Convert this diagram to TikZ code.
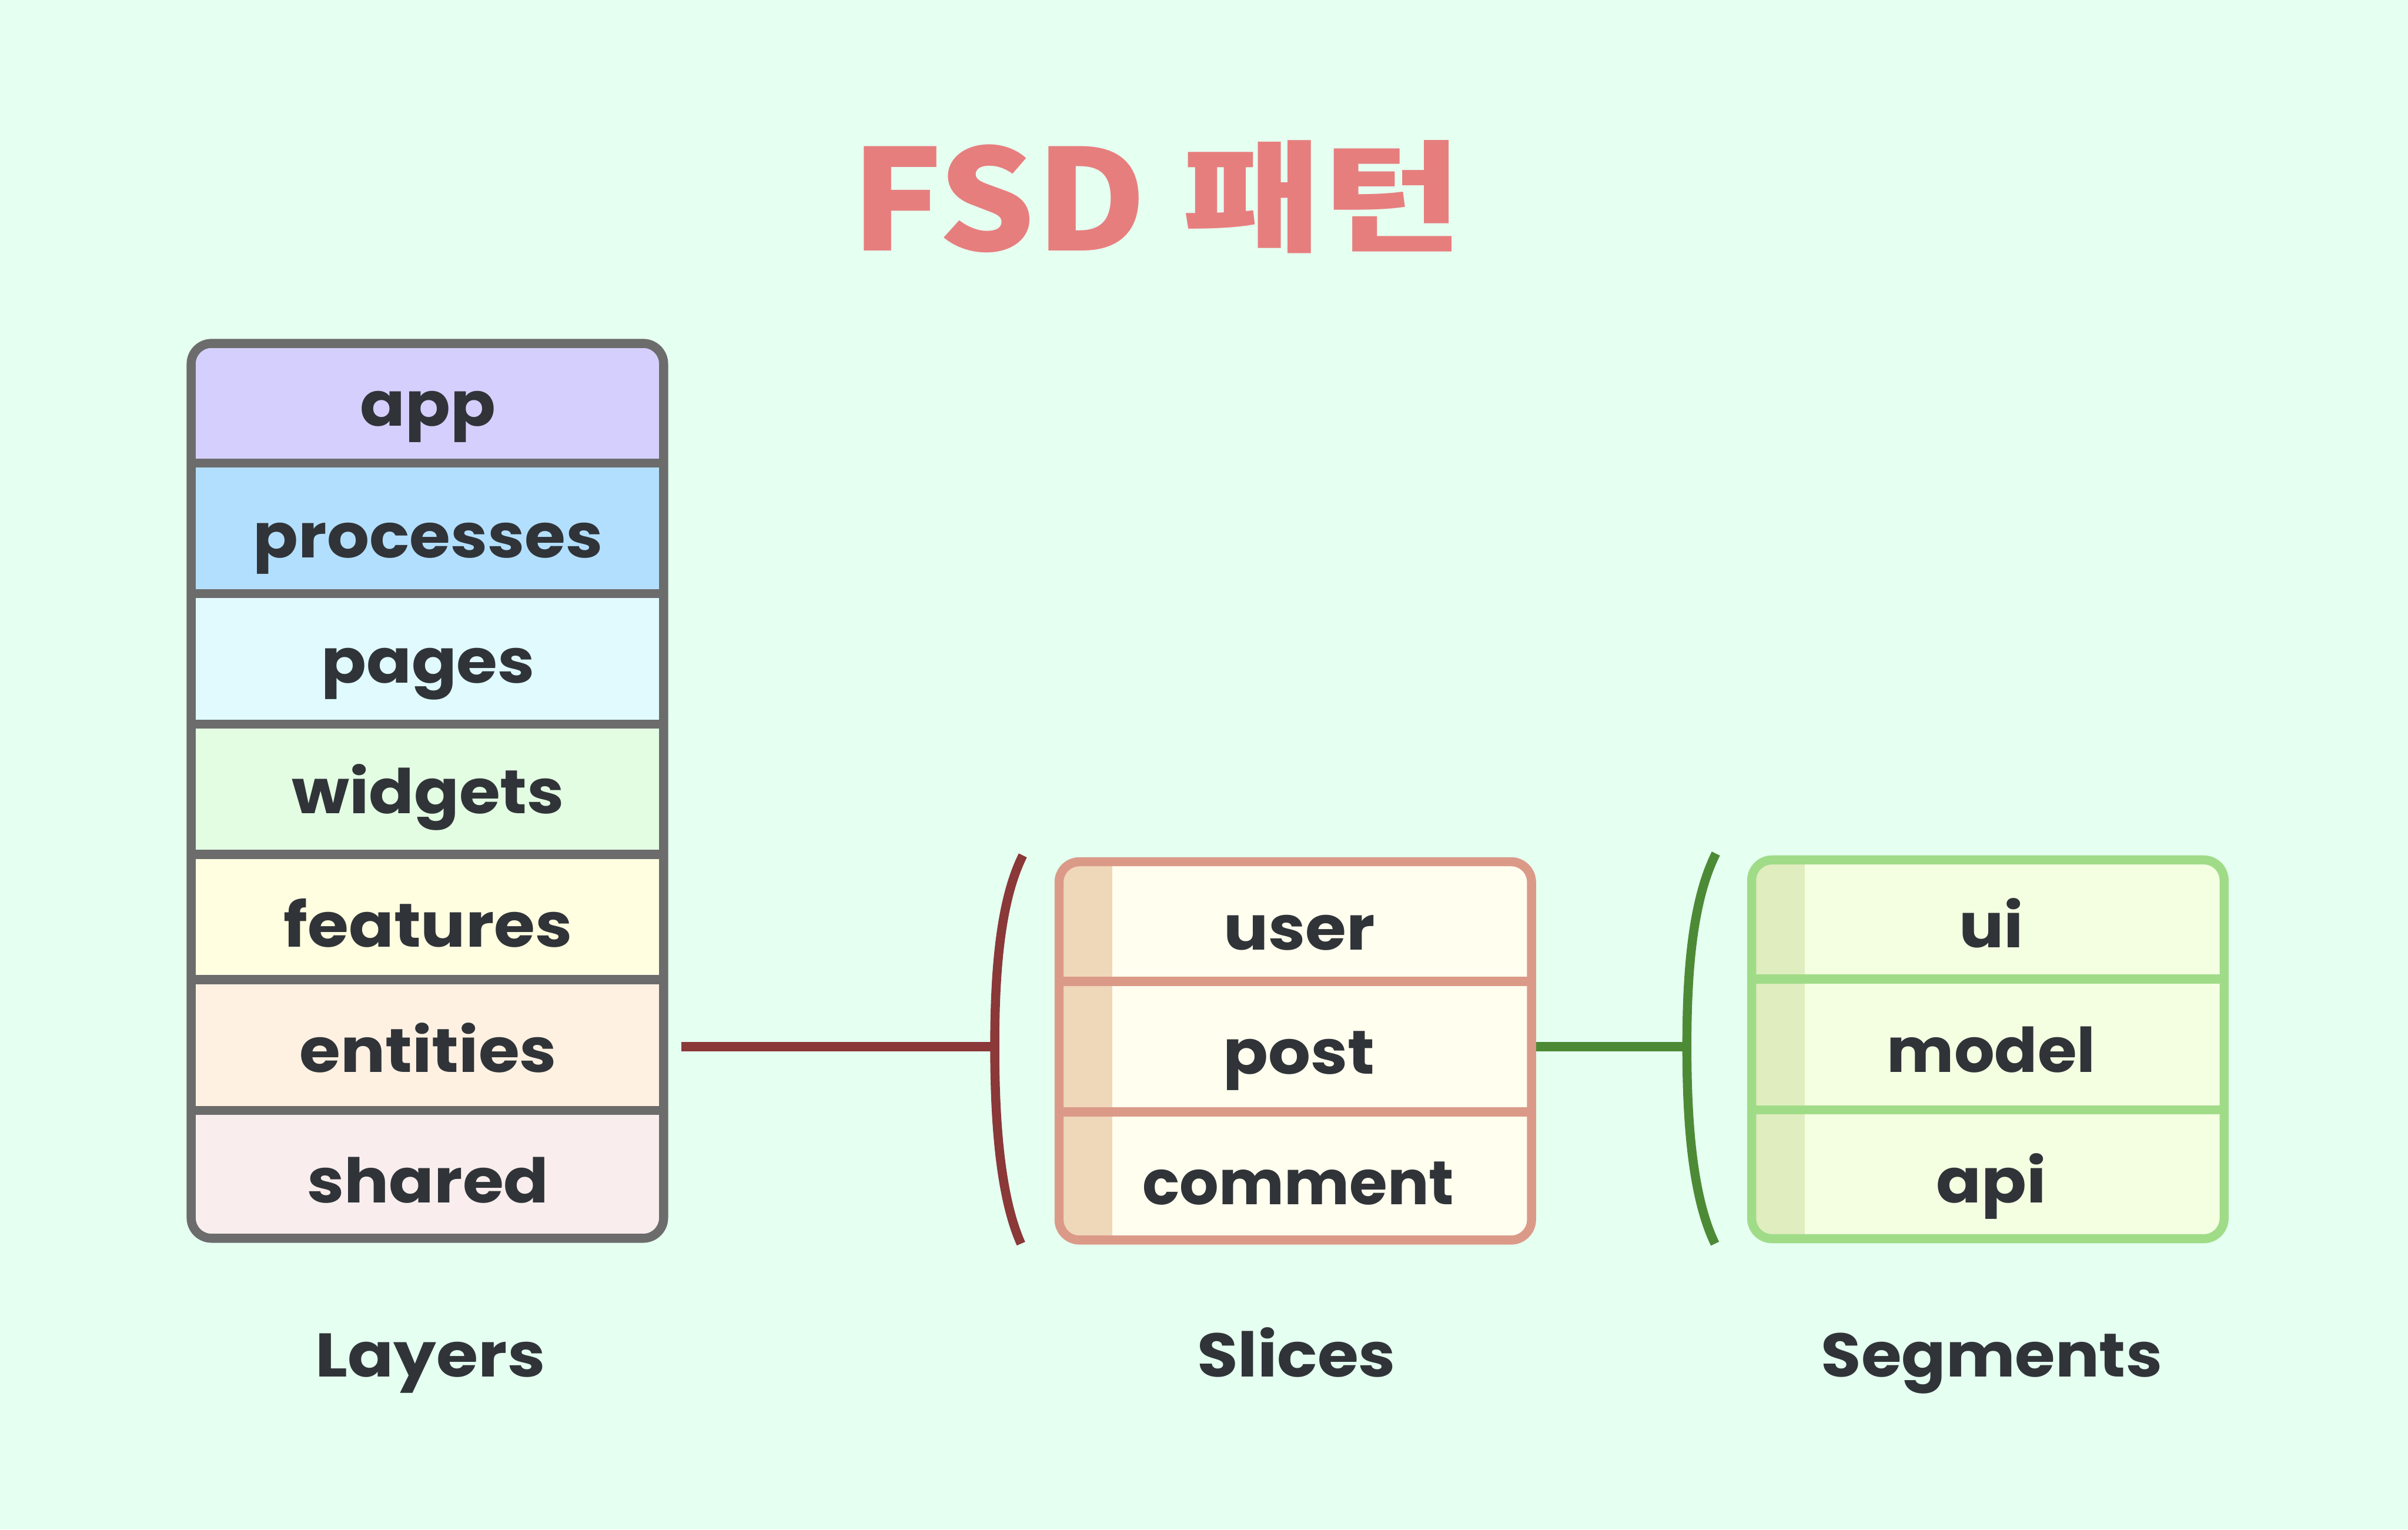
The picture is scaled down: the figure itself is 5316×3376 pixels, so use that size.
\documentclass[tikz,border=0pt]{standalone}
\usepackage{graphicx}
\usepackage{fontspec}
\newfontfamily\pop{Poppins}
\newfontfamily\kr{Noto Sans CJK KR}
\newcommand\wideT[1]{\scalebox{1.08}[1]{#1}}
\definecolor{bg}{HTML}{E5FFF1}
\definecolor{ink}{HTML}{303438}
\definecolor{titlec}{HTML}{E77E7E}
\definecolor{laybd}{HTML}{6C6C6C}
\definecolor{appc}{HTML}{D5CFFE}
\definecolor{procc}{HTML}{B3DFFE}
\definecolor{pagec}{HTML}{E0FAFE}
\definecolor{widc}{HTML}{E3FDE3}
\definecolor{featc}{HTML}{FFFEE0}
\definecolor{entc}{HTML}{FFF1E2}
\definecolor{shc}{HTML}{F9EEED}
\definecolor{slbd}{HTML}{DB9A88}
\definecolor{slfill}{HTML}{FFFEEF}
\definecolor{slstrip}{HTML}{EFD7BA}
\definecolor{sgbd}{HTML}{A0DC88}
\definecolor{sgfill}{HTML}{F4FFE2}
\definecolor{sgstrip}{HTML}{E0EDBE}
\definecolor{redc}{HTML}{8A3838}
\definecolor{greenc}{HTML}{4D8A36}
\begin{document}
\begin{tikzpicture}[x=0.1mm,y=-0.1mm,
  lbl/.style={font=\pop\bfseries\fontsize{38.7}{40}\selectfont, text=ink, anchor=base, inner sep=0pt},
  thick line/.style={line width=2mm},
  boxline/.style={line width=2mm, rounded corners=4.5mm}]
\fill[bg] (0,0) rectangle (5316,3376);
\useasboundingbox (0,0) rectangle (5316,3376);

% title
\node[font=\kr\bfseries\fontsize{88}{90}\selectfont, text=titlec, anchor=base, inner sep=0pt] (title) at (2554,553) {\scalebox{1.09}[1]{FSD \raisebox{0.06em}{\scalebox{1}[0.86]{패턴}}}};

% ---------------- Layers ----------------
\begin{scope}
\clip[rounded corners=4.5mm] (422,758) rectangle (1465,2733);
\fill[appc]  (422,758)  rectangle (1465,1022);
\fill[procc] (422,1022) rectangle (1465,1310);
\fill[pagec] (422,1310) rectangle (1465,1598);
\fill[widc]  (422,1598) rectangle (1465,1886);
\fill[featc] (422,1886) rectangle (1465,2162);
\fill[entc]  (422,2162) rectangle (1465,2451);
\fill[shc]   (422,2451) rectangle (1465,2733);
\end{scope}
\foreach \yy in {1022,1310,1598,1886,2162,2451}
  \draw[laybd, thick line] (422,\yy) -- (1465,\yy);
\draw[laybd, boxline] (422,758) rectangle (1465,2733);

\node[lbl] (app) at (945,940) {\wideT{app}};
\node[lbl] (processes) at (945,1231) {\wideT{processes}};
\node[lbl] (pages) at (945,1507) {\wideT{pages}};
\node[lbl] (widgets) at (945,1795) {\wideT{widgets}};
\node[lbl] (features) at (945,2090) {\wideT{features}};
\node[lbl] (entities) at (945,2366) {\wideT{entities}};
\node[lbl] (shared) at (945,2655) {\wideT{shared}};

% ---------------- Slices ----------------
\begin{scope}
\clip[rounded corners=4.5mm] (2338,1902) rectangle (3381,2737);
\fill[slfill] (2338,1902) rectangle (3381,2737);
\fill[slstrip] (2338,1902) rectangle (2456,2737);
\end{scope}
\foreach \yy in {2166,2454}
  \draw[slbd, thick line] (2338,\yy) -- (3381,\yy);
\draw[slbd, boxline] (2338,1902) rectangle (3381,2737);

\node[lbl] (user) at (2868,2096) {\wideT{user}};
\node[lbl] (post) at (2868,2371) {\wideT{post}};
\node[lbl] (comment) at (2866,2659) {comment};

% ---------------- Segments ----------------
\begin{scope}
\clip[rounded corners=4.5mm] (3867,1898) rectangle (4910,2734);
\fill[sgfill] (3867,1898) rectangle (4910,2734);
\fill[sgstrip] (3867,1898) rectangle (3984,2734);
\end{scope}
\foreach \yy in {2161,2450}
  \draw[sgbd, thick line] (3867,\yy) -- (4910,\yy);
\draw[sgbd, boxline] (3867,1898) rectangle (4910,2734);

\node[lbl] (ui) at (4396,2091) {\wideT{ui}};
\node[lbl] (model) at (4396,2367) {\scalebox{1.03}[1]{model}};
\node[lbl] (api) at (4396,2655) {\wideT{api}};

% ---------------- braces & connectors ----------------
\coordinate (layE) at (1504,2310);
\coordinate (slBr) at (2196,2310);
\coordinate (slE) at (3391,2310);
\coordinate (sgBr) at (3724,2310);

\draw[redc, thick line] (2258,1888) .. controls (2207,1990) and (2196,2150) .. (slBr)
  .. controls (2196,2470) and (2207,2640) .. (2254,2745);
\draw[greenc, thick line] (3788,1884) .. controls (3735,1990) and (3724,2150) .. (sgBr)
  .. controls (3724,2470) and (3735,2640) .. (3786,2745);

\draw[redc, thick line] (layE) -- (slBr);
\draw[greenc, thick line] (slE) -- (sgBr);

% ---------------- captions ----------------
\node[lbl] (capL) at (950,3039) {\scalebox{1.1}[1]{Layers}};
\node[lbl] (capS) at (2862,3039) {\wideT{Slices}};
\node[lbl] (capG) at (4397,3039) {\scalebox{1.06}[1]{Segments}};
\end{tikzpicture}
\end{document}
